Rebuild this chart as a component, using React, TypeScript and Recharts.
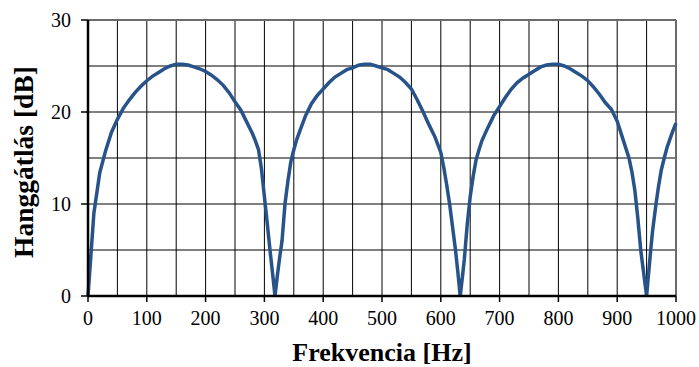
import {
  CartesianGrid,
  Label,
  Line,
  LineChart,
  ReferenceLine,
  XAxis,
  YAxis,
} from "recharts";

// frequency samples [Hz] and transmission loss [dB]
const FREQ = [
  0, 5, 10, 20, 30, 40, 50, 60, 70, 80, 90, 100, 110, 120, 130, 140, 150, 160,
  170, 180, 190, 200, 210, 220, 230, 240, 250, 260, 270, 280, 285, 290, 295,
  300, 305, 310, 314, 318, 322, 326, 330, 335, 340, 345, 350, 355, 360, 370,
  380, 390, 400, 410, 420, 430, 440, 450, 460, 470, 480, 490, 500, 510, 520,
  530, 540, 550, 560, 570, 580, 590, 600, 605, 610, 615, 620, 625, 629, 633,
  637, 640, 645, 650, 655, 660, 665, 670, 680, 690, 700, 710, 720, 730, 740,
  750, 760, 770, 780, 790, 800, 810, 820, 830, 840, 850, 860, 870, 880, 890,
  900, 910, 920, 925, 930, 935, 940, 945, 950, 953, 957, 960, 966, 970, 975,
  980, 985, 990, 995, 1000,
];

const TL = [
  0, 4.5, 9, 13.4, 15.8, 17.8, 19.2, 20.4, 21.3, 22.1, 22.8, 23.4, 23.9, 24.3,
  24.7, 25.0, 25.2, 25.2, 25.1, 24.9, 24.7, 24.4, 24.0, 23.5, 22.9, 22.1, 21.1,
  20.2, 18.9, 17.6, 16.8, 15.9, 13.8, 10.8, 7.8, 4.7, 2.4, 0, 2.2, 4.2, 6.0,
  10.0, 12.5, 14.6, 15.9, 17.0, 17.9, 19.6, 20.9, 21.8, 22.5, 23.2, 23.8, 24.2,
  24.6, 24.8, 25.1, 25.2, 25.2, 25.0, 24.8, 24.6, 24.2, 23.8, 23.2, 22.5, 21.3,
  20.0, 18.6, 17.3, 15.6, 14.0, 12.1, 10.0, 7.5, 5.0, 2.6, 0, 2.2, 4.0, 7.8,
  10.8, 13.0, 14.8, 15.9, 16.9, 18.3, 19.6, 20.6, 21.6, 22.5, 23.2, 23.7, 24.1,
  24.5, 24.9, 25.1, 25.2, 25.2, 25.0, 24.7, 24.3, 23.9, 23.4, 22.7, 21.9, 21.0,
  20.3, 19.0, 17.0, 15.0, 13.5, 11.5, 8.5, 5.0, 2.5, 0, 2.2, 5.0, 7.0, 10.0,
  11.8, 13.7, 15.0, 16.2, 17.1, 18.0, 18.8,
];

const X_TICKS = [0, 100, 200, 300, 400, 500, 600, 700, 800, 900, 1000];
const X_GRID = [
  0, 50, 100, 150, 200, 250, 300, 350, 400, 450, 500, 550, 600, 650, 700, 750,
  800, 850, 900, 950, 1000,
];
const Y_TICKS = [0, 10, 20, 30];
const Y_GRID = [0, 5, 10, 15, 20, 25, 30];

const data = FREQ.map((f, i) => ({ f, tl: TL[i] }));

const FONT = "'Liberation Serif', 'Times New Roman', serif";
const tickStyle = { fontSize: 20, fill: "#000", fontFamily: FONT };

export default function App() {
  return (
    <div style={{ width: 699, height: 367 }}>
      <style>{"body{margin:0}"}</style>
      <LineChart
        width={699}
        height={367}
        data={data}
        margin={{ top: 20, right: 23, left: 0, bottom: 0 }}
      >
        <CartesianGrid
          stroke="#000"
          strokeWidth={1}
          verticalValues={X_GRID}
          horizontalValues={Y_GRID}
        />
        <XAxis
          dataKey="f"
          type="number"
          domain={[0, 1000]}
          ticks={X_TICKS}
          interval={0}
          height={71}
          tick={tickStyle}
          tickSize={6}
          tickMargin={9}
          tickLine={{ stroke: "#000", strokeWidth: 1.5 }}
          axisLine={{ stroke: "#000", strokeWidth: 2.5 }}
        >
          <Label
            value="Frekvencia [Hz]"
            position="insideBottom"
            offset={6}
            style={{
              fontSize: 26,
              fontWeight: "bold",
              fill: "#000",
              fontFamily: FONT,
            }}
          />
        </XAxis>
        <YAxis
          type="number"
          domain={[0, 30]}
          ticks={Y_TICKS}
          interval={0}
          width={88}
          tick={tickStyle}
          tickSize={7}
          tickMargin={10}
          tickLine={{ stroke: "#000", strokeWidth: 1.5 }}
          axisLine={{ stroke: "#000", strokeWidth: 2.5 }}
        >
          <Label
            content={() => (
              <text
                x={33}
                y={162}
                transform="rotate(-90 33 162)"
                textAnchor="middle"
                fontSize={27.5}
                fontWeight="bold"
                fill="#000"
                fontFamily={FONT}
              >
                Hanggátlás [dB]
              </text>
            )}
          />
        </YAxis>
        <ReferenceLine y={30} stroke="#6b6b6b" strokeWidth={2} />
        <ReferenceLine x={1000} stroke="#6b6b6b" strokeWidth={2} />
        <Line
          type="linear"
          dataKey="tl"
          stroke="#27538A"
          strokeWidth={3.5}
          dot={false}
          activeDot={false}
          isAnimationActive={false}
        />
      </LineChart>
    </div>
  );
}
